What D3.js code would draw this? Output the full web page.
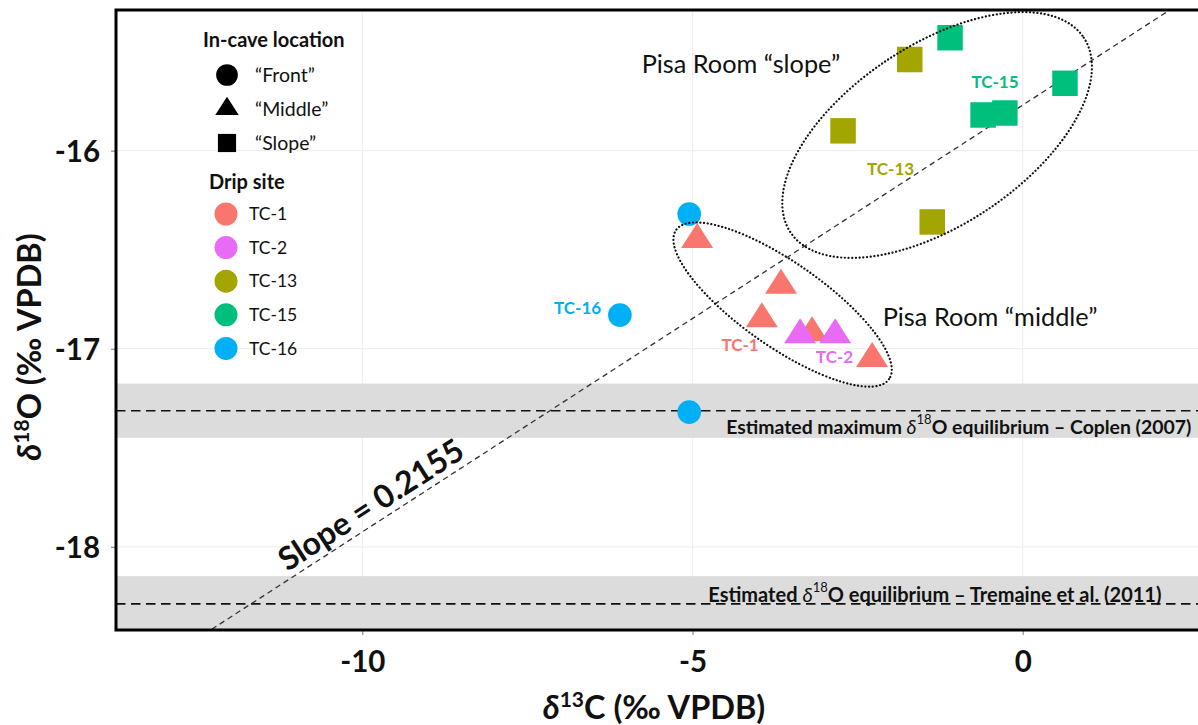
<!DOCTYPE html>
<html>
<head>
<meta charset="utf-8">
<script src="https://cdn.jsdelivr.net/npm/d3@7"></script>
<style>
  body { margin: 0; background: #fff; }
  svg { font-family: Lato, "Open Sans", sans-serif; }
</style>
</head>
<body>
<svg width="1198" height="725"></svg>
<script>

// Sitios de goteo y colores (paleta ggplot)
let sitios = ['TC-1', 'TC-2', 'TC-13', 'TC-15', 'TC-16']
let colores = ['#F8766D', '#E76BF3', '#A3A500', '#00BF7D', '#00B0F6']

// Ubicacion dentro de la cueva
let ubicaciones = ['“Front”', '“Middle”', '“Slope”']

// Puntos: d13C, d18O, sitio, ubicacion
let d13c  = [-5.05, -6.10, -5.05,  -4.93, -3.66, -3.95, -3.19, -2.28,  -3.37, -2.84,  -1.71, -2.72, -1.37,  -1.10, 0.64, -0.60, -0.27]
let d18o  = [-16.32, -16.83, -17.32,  -16.45, -16.68, -16.85, -16.92, -17.05,  -16.93, -16.93,  -15.54, -15.90, -16.36,  -15.43, -15.66, -15.82, -15.81]
let sitio = ['TC-16', 'TC-16', 'TC-16',  'TC-1', 'TC-1', 'TC-1', 'TC-1', 'TC-1',  'TC-2', 'TC-2',  'TC-13', 'TC-13', 'TC-13',  'TC-15', 'TC-15', 'TC-15', 'TC-15']
let lugar = ['“Front”', '“Front”', '“Front”',  '“Middle”', '“Middle”', '“Middle”', '“Middle”', '“Middle”',  '“Middle”', '“Middle”',  '“Slope”', '“Slope”', '“Slope”',  '“Slope”', '“Slope”', '“Slope”', '“Slope”']

let xticks = [-10, -5, 0]
let yticks = [-16, -17, -18]

// Recta de ajuste
let pendiente = 0.2155
let ordenada = -15.77

// Equilibrios estimados
let equilibrios = [
  {valor: -17.313, ancho: 0.137, pre: 'Estimated maximum ', post: 'O equilibrium – Coplen (2007)', tx: -4.49, ty: -17.39, fs: 19.4},
  {valor: -18.288, ancho: 0.14, pre: 'Estimated ', post: 'O equilibrium – Tremaine et al. (2011)', tx: -4.76, ty: -18.24, fs: 20}
]

// Etiquetas de sitio dentro del grafico
let etiquetas = [
  {txt: 'TC-15', x: -0.42, y: -15.65},
  {txt: 'TC-13', x: -2.00, y: -16.09},
  {txt: 'TC-16', x: -6.74, y: -16.79},
  {txt: 'TC-1',  x: -4.28, y: -16.98},
  {txt: 'TC-2',  x: -2.85, y: -17.04}
]

// Elipses (centro en datos, radios en px)
let elipses = [
  {x: -1.296, y: -15.921, rx: 176, ry: 90, ang: -33.6},
  {x: -3.636, y: -16.777, rx: 130, ry: 42, ang: 35}
]

let rotulos = [
  {txt: 'Pisa Room “slope”', x: -5.77, y: -15.606},
  {txt: 'Pisa Room “middle”', x: -2.12, y: -16.883}
]



let svg = d3.select('svg')
let color = d3.scaleOrdinal().domain(sitios).range(colores)

// triangulo algo achatado, como en la figura
let triangulo = {
  draw: (ctx, size) => {
    let w = Math.sqrt(size / 0.39), h = 0.78 * w
    ctx.moveTo(0, -h * 2 / 3)
    ctx.lineTo(w / 2, h / 3)
    ctx.lineTo(-w / 2, h / 3)
    ctx.closePath()
  }
}

let forma = d3.scaleOrdinal().domain(ubicaciones)
  .range([d3.symbolCircle, triangulo, d3.symbolSquare])
let tam = d3.scaleOrdinal().domain(ubicaciones).range([440, 400, 650])

let x = d3.scaleLinear().domain([-13.73, 2.7]).range([116, 1201])
let y = d3.scaleLinear().domain([-18.42, -15.29]).range([630, 10])

let defs = svg.append('defs')
defs.append('clipPath').attr('id', 'panel')
  .append('rect')
  .attr('x', x.range()[0]).attr('y', y.range()[1])
  .attr('width', x.range()[1] - x.range()[0])
  .attr('height', y.range()[0] - y.range()[1])

let panel = svg.append('g').attr('clip-path', 'url(#panel)')

// grilla
panel.selectAll('line.gx').data(xticks).enter().append('line')
  .attr('x1', d => x(d)).attr('x2', d => x(d))
  .attr('y1', y.range()[0]).attr('y2', y.range()[1])
  .attr('stroke', '#efefef').attr('stroke-width', 1.2)
panel.selectAll('line.gy').data(yticks).enter().append('line')
  .attr('y1', d => y(d)).attr('y2', d => y(d))
  .attr('x1', x.range()[0]).attr('x2', x.range()[1])
  .attr('stroke', '#efefef').attr('stroke-width', 1.2)

// bandas
panel.selectAll('rect.banda').data(equilibrios).enter().append('rect')
  .attr('x', x.range()[0]).attr('width', x.range()[1] - x.range()[0])
  .attr('y', d => y(d.valor + d.ancho))
  .attr('height', d => y(d.valor - d.ancho) - y(d.valor + d.ancho))
  .attr('fill', '#dcdcdc')

panel.selectAll('line.eq').data(equilibrios).enter().append('line')
  .attr('x1', x.range()[0]).attr('x2', x.range()[1])
  .attr('y1', d => y(d.valor)).attr('y2', d => y(d.valor))
  .attr('stroke', '#111').attr('stroke-width', 1.6)
  .attr('stroke-dasharray', '9.5,5.5')

// recta de pendiente
let x0 = x.domain()[0], x1 = x.domain()[1]
panel.append('line')
  .attr('x1', x(x0)).attr('y1', y(pendiente * x0 + ordenada))
  .attr('x2', x(x1)).attr('y2', y(pendiente * x1 + ordenada))
  .attr('stroke', '#333').attr('stroke-width', 1.3)
  .attr('stroke-dasharray', '5.5,4')

// puntos
let puntos = d13c.map((v, i) => ({x: v, y: d18o[i], sitio: sitio[i], lugar: lugar[i]}))
panel.selectAll('path.punto').data(puntos).enter().append('path')
  .attr('class', 'punto')
  .attr('d', d => d3.symbol().type(forma(d.lugar)).size(tam(d.lugar))())
  .attr('transform', d => `translate(${x(d.x)}, ${y(d.y)})`)
  .attr('fill', d => color(d.sitio))

// elipses
panel.selectAll('ellipse').data(elipses).enter().append('ellipse')
  .attr('rx', d => d.rx).attr('ry', d => d.ry)
  .attr('transform', d => `translate(${x(d.x)}, ${y(d.y)}) rotate(${d.ang})`)
  .attr('fill', 'none').attr('stroke', '#111').attr('stroke-width', 2.2)
  .attr('stroke-dasharray', '0.1,3.6').attr('stroke-linecap', 'round')

// etiquetas de sitio
panel.selectAll('text.sitio').data(etiquetas).enter().append('text')
  .attr('x', d => x(d.x)).attr('y', d => y(d.y))
  .attr('text-anchor', 'middle').attr('dominant-baseline', 'central')
  .attr('font-size', 17).attr('font-weight', 700)
  .attr('fill', d => color(d.txt))
  .text(d => d.txt)

panel.selectAll('text.rotulo').data(rotulos).enter().append('text')
  .attr('x', d => x(d.x)).attr('y', d => y(d.y))
  .attr('font-size', 25.3).attr('fill', '#111')
  .text(d => d.txt)

// textos de equilibrio
let teq = panel.selectAll('text.eq').data(equilibrios).enter().append('text')
  .attr('x', d => x(d.tx)).attr('y', d => y(d.ty))
  .attr('dominant-baseline', 'central')
  .attr('font-size', d => d.fs).attr('font-weight', 700).attr('fill', '#111')
teq.append('tspan').text(d => d.pre)
teq.append('tspan').text('δ').attr('font-style', 'italic').attr('font-weight', 400)
teq.append('tspan').text('18').attr('font-size', 13).attr('dy', -7).attr('font-weight', 400)
teq.append('tspan').text(d => d.post).attr('dy', 7)

// texto de pendiente
let xs = -9.72
panel.append('text')
  .attr('transform', `translate(${x(xs)}, ${y(pendiente * xs + ordenada)}) rotate(${-Math.atan(pendiente * (y(0) - y(1)) / (x(1) - x(0))) * 180 / Math.PI})`)
  .attr('text-anchor', 'middle').attr('dy', -7)
  .attr('font-size', 32).attr('font-weight', 700).attr('fill', '#111')
  .text('Slope = ' + pendiente)

// ejes
let ejeX = svg.append('g').attr('transform', `translate(0, ${y.range()[0]})`)
  .call(d3.axisBottom(x).tickValues(xticks).tickSize(5).tickPadding(16).tickFormat(d => String(d)))
let ejeY = svg.append('g').attr('transform', `translate(${x.range()[0]}, 0)`)
  .call(d3.axisLeft(y).tickValues(yticks).tickSize(5).tickPadding(11).tickFormat(d => String(d)))
for (let eje of [ejeX, ejeY]) {
  eje.select('.domain').remove()
  eje.selectAll('line').attr('stroke', '#777')
  eje.selectAll('text').attr('font-size', 29.5).attr('font-weight', 700)
    .attr('fill', '#111').attr('font-family', 'Lato, sans-serif')
}
ejeY.selectAll('text').attr('dy', '0.36em')

// marco
svg.append('path')
  .attr('d', `M${x.range()[1]},${y.range()[1]} H${x.range()[0]} V${y.range()[0]} H${x.range()[1]}`)
  .attr('fill', 'none').attr('stroke', '#000').attr('stroke-width', 3)

// titulos de ejes
let tx = svg.append('text').attr('x', 654).attr('y', 719)
  .attr('text-anchor', 'middle').attr('font-size', 32.5).attr('font-weight', 700).attr('fill', '#111')
tx.append('tspan').text('δ').attr('font-style', 'italic')
tx.append('tspan').text('13').attr('font-size', 21).attr('dy', -12)
tx.append('tspan').text('C (‰ VPDB)').attr('dy', 12)

let ty = svg.append('text').attr('transform', 'translate(41, 347) rotate(-90)')
  .attr('text-anchor', 'middle').attr('font-size', 32.5).attr('font-weight', 700).attr('fill', '#111')
ty.append('tspan').text('δ').attr('font-style', 'italic')
ty.append('tspan').text('18').attr('font-size', 21).attr('dy', -12)
ty.append('tspan').text('O (‰ VPDB)').attr('dy', 12)

// leyenda
let ley = svg.append('g')
ley.append('text').attr('x', 203).attr('y', 47).text('In-cave location')
  .attr('font-size', 20).attr('font-weight', 700).attr('fill', '#111')
ubicaciones.forEach((u, i) => {
  ley.append('path')
    .attr('d', d3.symbol().type(forma(u)).size([370, 215, 330][i])())
    .attr('transform', `translate(227, ${75 + i * 34})`)
    .attr('fill', '#000')
  ley.append('text').attr('x', 255).attr('y', 75 + i * 34).attr('dy', '0.35em')
    .attr('font-size', 19.5).attr('fill', '#111').text(u)
})
ley.append('text').attr('x', 209).attr('y', 189).text('Drip site')
  .attr('font-size', 20).attr('font-weight', 700).attr('fill', '#111')
sitios.forEach((s, i) => {
  ley.append('circle').attr('cx', 226).attr('cy', 214 + i * 33.6).attr('r', 11.5)
    .attr('fill', color(s))
  ley.append('text').attr('x', 249).attr('y', 214 + i * 33.6).attr('dy', '0.35em')
    .attr('font-size', 17.5).attr('fill', '#111').text(s)
})

</script>
</body>
</html>
